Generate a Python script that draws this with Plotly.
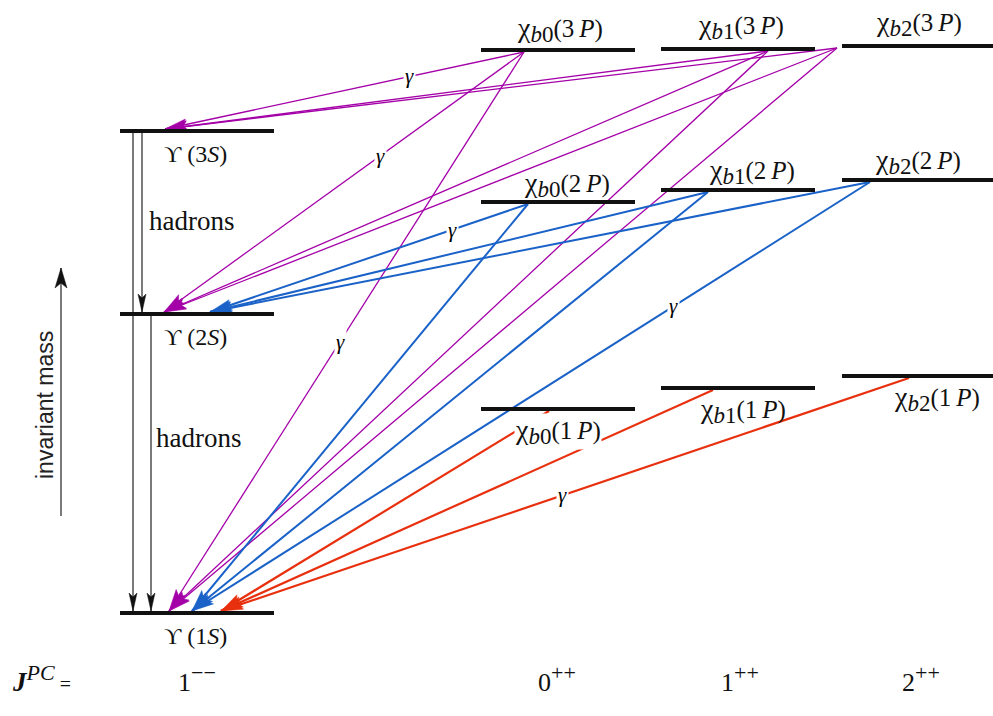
import math
import plotly.graph_objects as go

# ---------------- data (level heights in arbitrary "invariant mass" units) ----------------
upsilon_states = ["3S", "2S", "1S"]
upsilon_mass = [585, 402, 103]

chi_states_3P = ["b0_3P", "b1_3P", "b2_3P"]
chi_mass_3P = [666, 667, 670]
chi_states_2P = ["b0_2P", "b1_2P", "b2_2P"]
chi_mass_2P = [514, 526, 536]
chi_states_1P = ["b0_1P", "b1_1P", "b2_1P"]
chi_mass_1P = [307, 328, 340]

# radiative (E1) transitions: source -> target
radiative_3P = [("b0_3P", "3S"), ("b0_3P", "2S"), ("b0_3P", "1S"),
                ("b1_3P", "3S"), ("b1_3P", "2S"), ("b1_3P", "1S"),
                ("b2_3P", "3S"), ("b2_3P", "2S"), ("b2_3P", "1S")]
radiative_2P = [("b0_2P", "2S"), ("b0_2P", "1S"),
                ("b1_2P", "2S"), ("b1_2P", "1S"),
                ("b2_2P", "2S"), ("b2_2P", "1S")]
radiative_1P = [("b0_1P", "1S"), ("b1_1P", "1S"), ("b2_1P", "1S")]

hadronic = [("3S", "1S"), ("3S", "2S"), ("2S", "1S")]

jpc_values = ["1", "0", "1", "2"]
jpc_signs = ["−−", "++", "++", "++"]

# ---------------- styling / layout ----------------
W, H = 993, 716
SERIF = "Liberation Serif, DejaVu Serif, serif"
SANS = "Liberation Sans, Arial, sans-serif"
MAG = "#a400a8"
BLUE = "#1a62c8"
RED = "#e8300e"

mass = {}
for names, vals in [(upsilon_states, upsilon_mass), (chi_states_3P, chi_mass_3P),
                    (chi_states_2P, chi_mass_2P), (chi_states_1P, chi_mass_1P)]:
    for n, v in zip(names, vals):
        mass[n] = v

col_x0 = {"1--": 120, "0++": 481, "1++": 661, "2++": 842}
col_of = {"3S": "1--", "2S": "1--", "1S": "1--"}
for m in ["3P", "2P", "1P"]:
    col_of["b0_" + m] = "0++"
    col_of["b1_" + m] = "1++"
    col_of["b2_" + m] = "2++"
level_w = 154

# where arrows leave the source level (x) and arrive at the target level (x)
tail_x = {"b0_3P": 524, "b1_3P": 768, "b2_3P": 837,
          "b0_2P": 528, "b1_2P": 708, "b2_2P": 870,
          "b0_1P": 549, "b1_1P": 713, "b2_1P": 909}
tip_x = {("3S", "3P"): 165, ("2S", "3P"): 164, ("2S", "2P"): 210,
         ("1S", "3P"): 169, ("1S", "2P"): 192, ("1S", "1P"): 221}
had_x = {("3S", "1S"): 133, ("3S", "2S"): 142, ("2S", "1S"): 151}

gamma_pos = {("b0_3P", "3S"): 0.318, ("b0_3P", "2S"): 0.40, ("b0_3P", "1S"): 0.518,
             ("b0_2P", "2S"): 0.239, ("b2_2P", "1S"): 0.29, ("b2_1P", "1S"): 0.504}

fig = go.Figure()
annotations = []


def head_poly(tip, tail, L, Wd, notch):
    dx, dy = tip[0] - tail[0], tip[1] - tail[1]
    d = math.hypot(dx, dy)
    ux, uy = dx / d, dy / d
    nx, ny = -uy, ux
    bx, by = tip[0] - L * ux, tip[1] - L * uy
    p1 = (bx + Wd / 2 * nx, by + Wd / 2 * ny)
    p2 = (tip[0] - (L - notch) * ux, tip[1] - (L - notch) * uy)
    p3 = (bx - Wd / 2 * nx, by - Wd / 2 * ny)
    return [tip, p1, p2, p3, tip]


def add_arrows(transitions, mult, color, lw, L=22, Wd=11, notch=4):
    lx, ly, hx, hy = [], [], [], []
    for src, tgt in transitions:
        tail = (tail_x[src], mass[src] - 2)
        tip = (tip_x[(tgt, mult)], mass[tgt] + 2)
        lx += [tail[0], tip[0], None]
        ly += [tail[1], tip[1], None]
        for p in head_poly(tip, tail, L, Wd, notch):
            hx.append(p[0]); hy.append(p[1])
        hx.append(None); hy.append(None)
        if (src, tgt) in gamma_pos:
            t = gamma_pos[(src, tgt)]
            gx = tail[0] + t * (tip[0] - tail[0])
            gy = tail[1] + t * (tip[1] - tail[1])
            annotations.append(dict(x=gx, y=gy, text="<i>γ</i>", showarrow=False,
                                    font=dict(family=SERIF, size=21, color="black"),
                                    bgcolor="white", borderpad=1,
                                    xanchor="center", yanchor="middle"))
    fig.add_trace(go.Scatter(x=lx, y=ly, mode="lines", line=dict(color=color, width=lw),
                             hoverinfo="skip", showlegend=False))
    fig.add_trace(go.Scatter(x=hx, y=hy, mode="lines", fill="toself", fillcolor=color,
                             line=dict(color=color, width=0.5),
                             hoverinfo="skip", showlegend=False))


add_arrows(radiative_3P, "3P", MAG, 1.3)
add_arrows(radiative_2P, "2P", BLUE, 2.0)
add_arrows(radiative_1P, "1P", RED, 2.2)

# hadronic transitions (black vertical arrows)
lx, ly, hx, hy = [], [], [], []
for src, tgt in hadronic:
    x = had_x[(src, tgt)]
    tail = (x, mass[src])
    tip = (x, mass[tgt] + 2)
    lx += [tail[0], tip[0], None]
    ly += [tail[1], tip[1], None]
    for p in head_poly(tip, tail, 18, 8, 4):
        hx.append(p[0]); hy.append(p[1])
    hx.append(None); hy.append(None)
fig.add_trace(go.Scatter(x=lx, y=ly, mode="lines", line=dict(color="#222", width=1.2),
                         hoverinfo="skip", showlegend=False))
fig.add_trace(go.Scatter(x=hx, y=hy, mode="lines", fill="toself", fillcolor="#111",
                         line=dict(color="#111", width=0.5), hoverinfo="skip", showlegend=False))

# energy levels
lx, ly = [], []
for name, m in mass.items():
    x0 = col_x0[col_of[name]]
    w = level_w if col_of[name] != "2++" else 160
    lx += [x0, x0 + w, None]
    ly += [m, m, None]
fig.add_trace(go.Scatter(x=lx, y=ly, mode="lines", line=dict(color="#111", width=4),
                         hoverinfo="skip", showlegend=False))

# invariant-mass arrow
ia_tail, ia_tip = (61, 200), (61, 448)
fig.add_trace(go.Scatter(x=[ia_tail[0], ia_tip[0]], y=[ia_tail[1], ia_tip[1]], mode="lines",
                         line=dict(color="#222", width=1.2), hoverinfo="skip", showlegend=False))
hp = head_poly(ia_tip, ia_tail, 20, 12, 5)
fig.add_trace(go.Scatter(x=[p[0] for p in hp], y=[p[1] for p in hp], mode="lines", fill="toself",
                         fillcolor="#111", line=dict(color="#111", width=0.5),
                         hoverinfo="skip", showlegend=False))
annotations.append(dict(x=45, y=311, text="invariant mass", textangle=-90, showarrow=False,
                        font=dict(family=SANS, size=23, color="#222"),
                        xanchor="center", yanchor="middle"))

# state labels
for s in upsilon_states:
    annotations.append(dict(x=col_x0["1--"] + 75, y=mass[s] - 23,
                            text="ϒ (" + s[0] + "<i>" + s[1] + "</i>)",
                            showarrow=False,
                            font=dict(family=SERIF, size=24, color="#111"),
                            xanchor="center", yanchor="middle"))

chi_label_off = {"b0_3P": (79, 21), "b1_3P": (80, 23), "b2_3P": (77, 23),
                 "b0_2P": (86, 18), "b1_2P": (91, 19), "b2_2P": (76, 19),
                 "b0_1P": (77, -22), "b1_1P": (82, -22), "b2_1P": (95, -22)}
for group in [chi_states_3P, chi_states_2P, chi_states_1P]:
    for s in group:
        j = s[1]
        n = s[3]
        dx, dy = chi_label_off[s]
        annotations.append(dict(x=col_x0[col_of[s]] + dx, y=mass[s] + dy,
                                text="<span style='font-size:28px'>χ</span><sub><span style='font-size:23px'><i>b</i>" + j
                                     + "</span></sub>(" + n + "\u2009<i>P</i>)",
                                showarrow=False, font=dict(family=SERIF, size=25, color="#111"),
                                bgcolor="white" if s == "b0_1P" else None, borderpad=0,
                                xanchor="center", yanchor="middle"))

# hadrons labels
annotations.append(dict(x=147, y=(mass["3S"] + mass["2S"]) / 2 + 2, text="hadrons", showarrow=False,
                        font=dict(family=SERIF, size=27, color="#111"), xanchor="left", yanchor="middle"))
annotations.append(dict(x=154, y=(mass["2S"] + mass["1S"]) / 2 + 26, text="hadrons", showarrow=False,
                        font=dict(family=SERIF, size=27, color="#111"), xanchor="left", yanchor="middle"))

# J^PC row
annotations.append(dict(x=10, y=38,
                        text="<b><i>J</i></b><sup><span style='font-size:22px'><i>PC</i></span></sup>"
                             "<span style='font-size:20px'> =</span>",
                        showarrow=False, font=dict(family=SERIF, size=27, color="#111"),
                        xanchor="left", yanchor="middle"))
jpc_x = [197, 557, 740, 921]
for v, sg, x in zip(jpc_values, jpc_signs, jpc_x):
    annotations.append(dict(x=x, y=38,
                            text=v + "<sup><span style='font-size:22px'>" + sg + "</span></sup>",
                            showarrow=False,
                            font=dict(family=SERIF, size=26, color="#111"),
                            xanchor="center", yanchor="middle"))

fig.update_layout(
    width=W, height=H, margin=dict(l=0, r=0, t=0, b=0),
    paper_bgcolor="white", plot_bgcolor="white",
    xaxis=dict(range=[0, W], visible=False, fixedrange=True),
    yaxis=dict(range=[0, H], visible=False, fixedrange=True),
    annotations=annotations, showlegend=False,
)

fig.write_html("out.html", config={"displayModeBar": False},
               post_script="document.body.style.margin='0';document.body.style.overflow='hidden';")
